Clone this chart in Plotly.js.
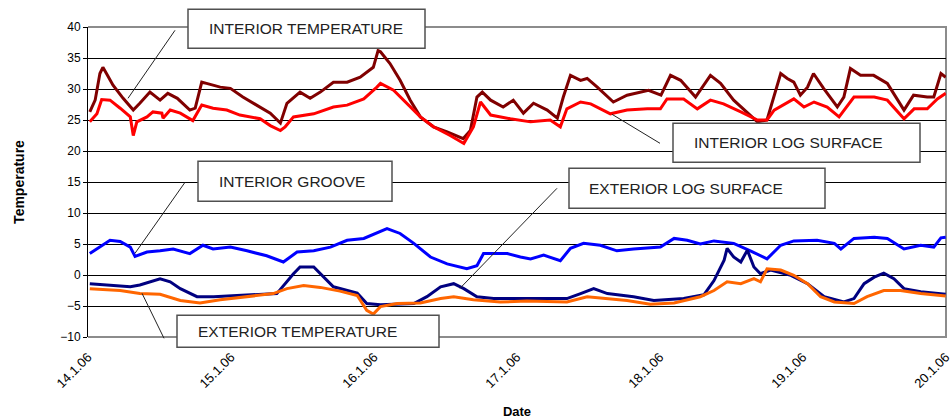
<!DOCTYPE html>
<html>
<head>
<meta charset="utf-8">
<script src="https://cdn.plot.ly/plotly-3.0.1.min.js"></script>
<style>html,body{margin:0;padding:0;background:#fff;}#chart{width:952px;height:419px;}</style>
</head>
<body>
<div id="chart"></div>
<script>
// ---- Data (hours since 14.1.06 00:00, temperature in °C) ----
const dateTickHours = [0, 24, 48, 72, 96, 120, 144];
const dateTickLabels = ["14.1.06", "15.1.06", "16.1.06", "17.1.06", "18.1.06", "19.1.06", "20.1.06"];

const interiorTempHours = [0.3,1.2,2.0,2.5,3.1,4.2,5.9,7.6,8.7,10.4,12.1,13.4,15.0,17.1,18.0,19.1,19.9,22.2,23.9,26.0,28.3,30.6,32.3,33.4,35.6,37.3,39.0,41.2,43.5,45.7,47.9,48.7,49.1,50.7,52.4,54.1,55.8,58.0,60.3,63.0,64.2,65.3,66.2,67.6,69.7,71.4,73.1,74.8,77.1,78.8,79.8,81.0,82.7,83.8,85.5,88.2,90.5,92.8,94.1,96.2,97.8,99.5,102.0,104.5,106.2,108.4,110.7,112.4,114.0,115.1,116.3,117.4,118.5,119.6,120.8,121.8,123.5,125.8,126.9,128.0,129.7,131.9,134.2,137.0,138.6,140.9,142.0,143.2,144];
const interiorTemp = [26.3,28.2,32.5,33.5,32.5,30.6,28.5,26.6,27.7,29.5,28.2,29.3,28.5,26.6,26.9,31.1,30.9,30.3,30.1,28.7,27.4,26.1,24.5,27.7,29.5,28.5,29.5,31.1,31.1,31.9,33.5,36.2,36.0,34.1,31.4,28.2,25.5,23.9,23.1,22.0,23.3,28.7,29.5,28.2,27.1,28.2,26.1,27.7,26.6,25.3,28.7,32.2,31.4,31.7,30.3,27.9,29.0,29.5,29.8,29.0,32.2,31.4,28.7,32.2,30.9,28.2,26.1,24.7,25.0,28.7,32.5,31.7,31.1,29.0,30.3,32.5,30.1,27.1,28.7,33.3,32.2,32.2,30.9,26.6,29.0,28.7,28.7,32.5,31.9];

const interiorLogHours = [0.3,1.5,2.3,3.7,5.4,7.1,7.6,8.2,9.9,10.9,12.4,12.6,13.8,15.5,17.6,19.1,21.0,23.3,25.5,28.9,30.6,32.3,33.1,34.5,37.9,41.2,43.5,46.3,48.5,49.1,51.3,53.6,55.8,58.0,60.8,63.1,64.7,65.9,67.6,70.9,74.3,77.6,79.3,80.4,82.7,84.4,87.7,90.5,93.9,96.1,97.2,100.0,102.3,104.5,106.7,109.6,112.4,114.0,115.2,118.5,120.2,121.9,124.1,126.1,128.6,132.0,134.2,137.0,138.7,140.9,142.6,144];
const interiorLog = [24.7,26.0,28.3,28.2,26.9,25.5,22.5,24.7,25.5,26.3,26.1,25.3,26.6,26.1,24.9,27.4,26.9,26.6,25.8,25.2,24.1,23.3,23.9,25.5,26.0,27.1,27.4,28.4,30.3,30.9,29.8,27.6,25.5,23.9,22.5,21.2,23.9,27.9,25.8,25.2,24.7,25.0,23.9,26.8,27.9,27.6,26.0,26.6,26.8,26.8,28.4,28.4,26.8,28.2,27.6,26.3,25.0,25.0,26.6,28.4,27.1,27.9,27.1,25.5,28.7,28.7,28.2,25.2,26.8,26.8,28.4,29.3];

const grooveHours = [0.3,2.0,3.7,5.4,7.1,7.9,9.9,12.1,14.3,17.1,19.3,21.0,23.9,26.7,30.0,32.8,35.1,37.9,40.7,43.5,46.3,50.2,52.4,54.7,57.5,60.3,63.6,65.3,66.4,70.4,72.6,74.3,76.5,79.3,81.0,83.2,86.0,88.8,91.6,96.1,98.4,100.6,102.8,105.1,108.4,111.2,114.0,116.3,118.5,122.4,125.3,126.4,128.6,132.0,134.2,137.0,139.8,142.0,143.2,144];
const groove = [3.45,4.5,5.6,5.4,4.5,3.0,3.7,3.9,4.2,3.45,4.8,4.2,4.5,3.9,3.1,2.1,3.7,3.9,4.5,5.6,5.9,7.5,6.7,5.1,2.9,1.8,1.0,1.5,3.45,3.45,2.9,2.6,3.2,2.3,4.3,5.1,4.8,3.9,4.2,4.5,5.9,5.6,5.0,5.5,5.1,3.9,2.6,4.8,5.5,5.6,5.1,4.2,5.9,6.1,5.9,4.2,4.8,4.5,6.0,6.1];

const exteriorLogHours = [0.3,7.1,8.7,12.1,13.8,15.5,18.3,21.1,25.0,31.7,34.5,35.6,37.9,40.1,41.2,45.2,46.8,49.1,54.7,56.9,59.2,61.4,63.1,65.3,68.1,73.7,80.4,82.7,84.9,87.2,91.6,95.0,100.0,103.4,105.1,106.8,107.3,108.4,109.6,110.7,111.8,112.9,114.6,118.0,120.8,123.6,126.9,128.6,130.3,132.0,133.6,135.3,137.0,139.8,144];
const exteriorLog = [-1.4,-1.9,-1.6,-0.6,-1.1,-2.2,-3.5,-3.5,-3.3,-3.0,0.2,1.3,1.3,-0.9,-1.9,-2.9,-4.6,-4.8,-4.6,-3.5,-1.9,-1.4,-2.2,-3.5,-3.8,-3.8,-3.8,-3.0,-2.2,-3.0,-3.5,-4.1,-3.8,-3.2,-0.9,2.4,4.3,2.9,2.1,4.0,1.3,0.2,0.8,-0.05,-1.4,-3.5,-4.35,-3.8,-1.4,-0.35,0.3,-0.6,-2.2,-2.7,-3.1];

const exteriorTempHours = [0.3,5.4,8.7,12.1,15.5,18.8,22.2,26.7,31.1,33.4,36.2,39.0,42.3,45.2,46.8,47.9,49.1,51.9,55.8,59.2,61.4,64.7,69.2,73.7,80.4,83.8,87.7,90.5,94.4,98.4,102.8,105.1,107.3,109.6,111.8,112.9,114.0,116.3,118.5,120.8,123.0,125.3,128.6,130.8,133.6,136.4,139.8,144];
const exteriorTemp = [-2.2,-2.5,-3.0,-3.1,-4.1,-4.5,-4.0,-3.5,-3.0,-2.2,-1.7,-2.0,-2.6,-3.3,-5.7,-6.3,-5.1,-4.6,-4.5,-3.8,-3.5,-4.0,-4.35,-4.2,-4.35,-3.5,-3.8,-4.1,-4.7,-4.5,-3.5,-2.5,-1.1,-1.4,-0.6,-1.1,1.0,0.8,-0.05,-1.4,-3.5,-4.35,-4.6,-3.5,-2.5,-2.5,-3.0,-3.4];

const seriesNames = ["INTERIOR TEMPERATURE", "INTERIOR LOG SURFACE", "INTERIOR GROOVE", "EXTERIOR LOG SURFACE", "EXTERIOR TEMPERATURE"];

// ---- Layout geometry (pixels) ----
const W = 952, H = 419;
const PL = 88, PR = 946, PT = 26.7, PB = 336.7;
const fx = x => (x - PL) / (PR - PL);
const fy = y => (PB - y) / (PB - PT);
const XR = [0, 144.05];

const mk = (x, y, color, name) => ({
  x: x, y: y, name: name, type: 'scatter', mode: 'lines',
  line: {color: color, width: 3}, hoverinfo: 'skip', xaxis: 'x', yaxis: 'y'
});

const traces = [
  mk(interiorTempHours, interiorTemp, '#800000', seriesNames[0]),
  mk(interiorLogHours, interiorLog, '#FF0000', seriesNames[1]),
  mk(grooveHours, groove, '#0000FF', seriesNames[2]),
  mk(exteriorLogHours, exteriorLog, '#000080', seriesNames[3]),
  mk(exteriorTempHours, exteriorTemp, '#FF6600', seriesNames[4])
];

// callout boxes: [left, top, right, bottom, textLeft, label]
const callouts = [
  [188, 9, 425, 48, 207, seriesNames[0]],
  [673, 123, 920, 162, 692, seriesNames[1]],
  [198, 161, 392, 201, 217, seriesNames[2]],
  [569, 168, 825, 208, 587, seriesNames[3]],
  [177, 315, 439, 347, 196, seriesNames[4]]
];
const leaders = [
  [175, 30, 128, 98],
  [612, 114, 660, 143],
  [185, 182, 135, 253],
  [557, 188, 460, 288],
  [142, 293, 164, 338]
];

const shapes = [
  {type: 'path', xref: 'paper', yref: 'paper', path: 'M0,1 L1,1 L1,0 L0,0', layer: 'between',
   line: {color: '#8c8c8c', width: 2}}
];
leaders.forEach(l => shapes.push({type: 'line', xref: 'paper', yref: 'paper', layer: 'above',
  x0: fx(l[0]), y0: fy(l[1]), x1: fx(l[2]), y1: fy(l[3]), line: {color: '#222', width: 1}}));
callouts.forEach(c => shapes.push({type: 'rect', xref: 'paper', yref: 'paper', layer: 'above',
  x0: fx(c[0]), y0: fy(c[3]), x1: fx(c[2]), y1: fy(c[1]), fillcolor: '#fff',
  line: {color: '#505050', width: 1.5}}));

const annotations = callouts.map(c => ({
  xref: 'paper', yref: 'paper', x: fx(c[4]), y: fy((c[1] + c[3]) / 2),
  xanchor: 'left', yanchor: 'middle', showarrow: false, text: c[5],
  font: {family: 'Arial, Liberation Sans, sans-serif', size: 15.5, color: '#222'}
}));

const font = {family: 'Arial, Liberation Sans, sans-serif', color: '#000'};

const layout = {
  width: W, height: H,
  margin: {l: PL, r: W - PR, t: PT, b: H - PB, pad: 0},
  paper_bgcolor: '#fff', plot_bgcolor: '#fff',
  showlegend: false,
  font: font,
  xaxis: {
    range: XR, tickmode: 'array', tickvals: dateTickHours, ticktext: dateTickLabels,
    tickangle: -45, ticks: '', showgrid: false, zeroline: false, showline: false,
    tickfont: {size: 13}, ticklabelstandoff: 9, ticklabeloverflow: 'allow',
    title: {text: '<b>Date</b>', font: {size: 13}, standoff: 22}
  },
  xaxis2: {
    overlaying: 'x', anchor: 'free', position: 0.2, range: XR,
    tickmode: 'linear', tick0: 0, dtick: 12, ticks: 'outside', ticklen: 4, tickcolor: '#000', tickwidth: 1,
    showticklabels: false, showgrid: false, zeroline: false, showline: true, linecolor: '#000', linewidth: 1
  },
  yaxis: {
    range: [-10, 40], tickmode: 'linear', tick0: -10, dtick: 5,
    showgrid: true, gridcolor: '#000', gridwidth: 1, zeroline: false,
    showline: true, linecolor: '#000', linewidth: 1,
    ticks: 'outside', ticklen: 4, tickcolor: '#000', tickfont: {size: 12},
    title: {text: '<b>Temperature</b>', font: {size: 14}, standoff: 32}
  },
  shapes: shapes,
  annotations: annotations
};

Plotly.newPlot('chart', traces, layout, {staticPlot: true, displayModeBar: false});
</script>
</body>
</html>
